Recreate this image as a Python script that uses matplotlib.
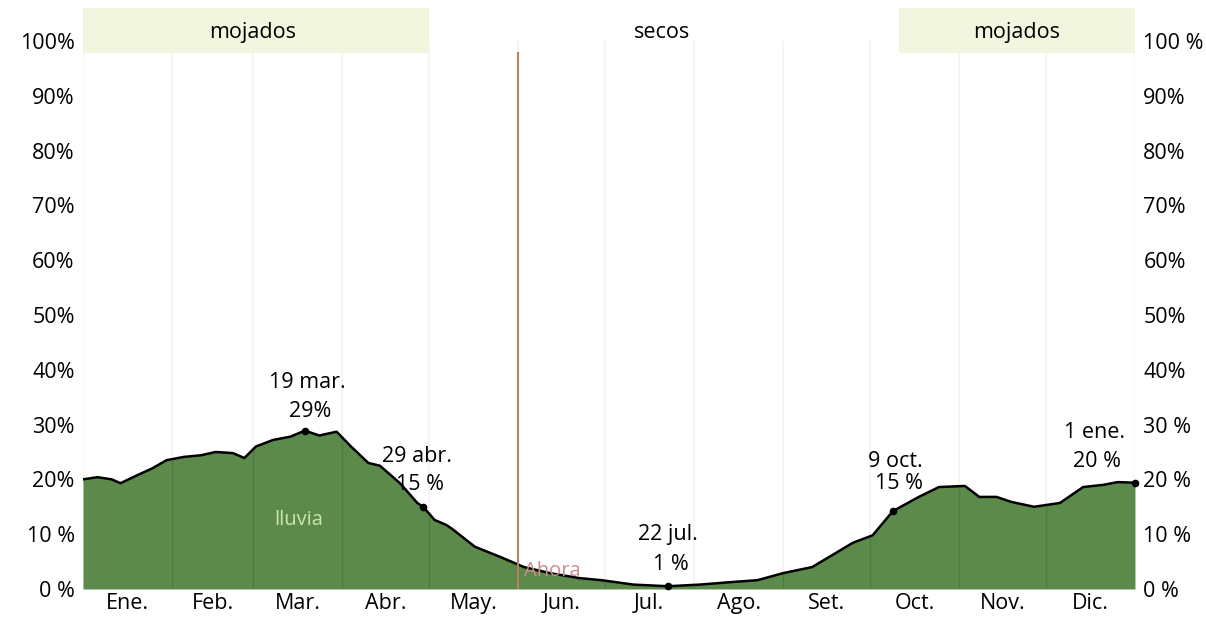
import numpy as np
import matplotlib.pyplot as plt

plt.rcParams['font.family'] = ['Open Sans', 'DejaVu Sans']

# Probabilidad diaria de lluvia (día del año, %)
days = [0, 5, 10, 13, 19, 24, 29, 35, 41, 46, 52, 56, 60, 66, 72, 77, 82, 88,
        93, 99, 103, 110, 116, 118, 122, 126, 128, 136, 145, 153, 162, 172, 180,
        191, 203, 214, 226, 234, 243, 253, 261, 267, 274, 281, 290, 297, 306,
        311, 317, 322, 330, 339, 347, 354, 359, 365]
rain = [20.0, 20.4, 20.0, 19.3, 20.8, 22.0, 23.5, 24.1, 24.4, 25.0, 24.8, 23.9,
        26.0, 27.2, 27.8, 28.9, 28.0, 28.7, 26.0, 23.0, 22.5, 19.3, 15.7, 15.0,
        12.6, 11.7, 11.0, 7.7, 5.8, 4.0, 2.9, 2.0, 1.6, 0.8, 0.5, 0.8, 1.3, 1.6,
        2.9, 4.0, 6.5, 8.4, 9.8, 14.2, 16.8, 18.6, 18.8, 16.8, 16.8, 15.9, 15.0,
        15.7, 18.6, 19.0, 19.5, 19.4]

months = ['Ene.', 'Feb.', 'Mar.', 'Abr.', 'May.', 'Jun.', 'Jul.', 'Ago.',
          'Set.', 'Oct.', 'Nov.', 'Dic.']
month_starts = [0, 31, 59, 90, 120, 151, 181, 212, 243, 273, 304, 334, 365]

# puntos destacados
mark_days = [77, 118, 203, 281, 365]
mark_vals = [28.9, 15.0, 0.5, 14.2, 19.4]
mark_dates = ['19 mar.', '29 abr.', '22 jul.', '9 oct.', '1 ene.']
mark_labels = ['29%', '15 %', '1 %', '15 %', '20 %']

wet1 = (0, 120)
wet2 = (283, 365)
now_day = 151

green = '#5c8a4b'
fs = 15.5

fig = plt.figure(figsize=(12.06, 6.19), dpi=100)
ax = fig.add_axes([0.0688, 0.0485, 0.8723, 0.8853])
ax.set_xlim(0, 365)
ax.set_ylim(0, 100)

for d in month_starts:
    ax.axvline(d, color='#f6f6ec', lw=1.5, zorder=0)

ax.fill_between(days, rain, 0, color=green, lw=0, zorder=2)
for d in month_starts[1:-1]:
    top = np.interp(d, days, rain)
    ax.plot([d, d], [0, top], color='#4f7b40', lw=1, zorder=2.5)
ax.plot(days, rain, color='black', lw=1.8, zorder=3)

ax.text(75, 12.5, 'lluvia', color='#c8e6a8', fontsize=14.5, ha='center',
        va='center', zorder=4)

# bandas mojado / seco
for x0, x1 in (wet1, wet2):
    ax.add_patch(plt.Rectangle((x0, 97.8), x1 - x0, 8.2, facecolor='#f3f6df',
                               edgecolor='none', clip_on=False, zorder=1))
ax.text(59, 101.5, 'mojados', fontsize=fs, ha='center', va='center')
ax.text(201, 101.5, 'secos', fontsize=fs, ha='center', va='center')
ax.text(324, 101.5, 'mojados', fontsize=fs, ha='center', va='center')

ax.plot([now_day, now_day], [0, 97.8], color='#b58462', lw=1.5, zorder=3.5)
ax.text(now_day + 2, 3.2, 'Ahora', color='#cc8c8c', fontsize=14.5,
        ha='left', va='center', zorder=4)

# posiciones de las etiquetas (día, % de la fecha, % del valor)
label_pos = [(78, 37.6, 32.3), (116, 24.1, 19.0), (203, 9.9, 4.4),
             (282, 23.2, 19.3), (351, 28.6, 23.2)]
for d, v, date, lab, (lx, yd, yv) in zip(mark_days, mark_vals, mark_dates,
                                         mark_labels, label_pos):
    ax.plot(d, v, 'o', color='black', ms=4.5, zorder=5, clip_on=False)
    ax.text(lx, yd, date, fontsize=fs, ha='center', va='center', zorder=6)
    ax.text(lx + 1, yv, lab, fontsize=fs, ha='center', va='center', zorder=6)

ax.set_xticks([(month_starts[i] + month_starts[i + 1]) / 2 for i in range(12)])
ax.set_xticklabels(months, fontsize=fs)
yt = np.arange(0, 101, 10)
ax.set_yticks(yt)
ax.set_yticklabels([f'{v}%' if v not in (0, 10) else f'{v} %' for v in yt],
                   fontsize=fs)
ax.tick_params(length=0, pad=6)
ax.tick_params(axis='x', pad=3)

ax2 = ax.twinx()
ax2.set_ylim(0, 100)
ax2.set_yticks(yt)
ax2.set_yticklabels(['0 %', '10 %', '20 %', '30 %', '40%', '50%', '60%',
                     '70%', '80%', '90%', '100 %'], fontsize=fs)
ax2.tick_params(length=0, pad=6)

for a in (ax, ax2):
    for s in a.spines.values():
        s.set_visible(False)

fig.savefig('out.png', dpi=100, facecolor='white')
